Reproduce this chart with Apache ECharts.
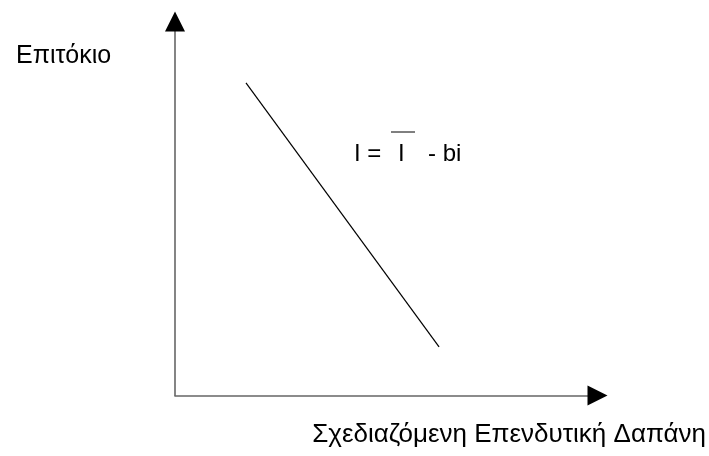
<!DOCTYPE html>
<html>
<head>
<meta charset="utf-8">
<script src="https://cdn.jsdelivr.net/npm/echarts@6/dist/echarts.min.js"></script>
<style>
  html, body { margin: 0; padding: 0; background: #fff; }
  #chart { width: 709px; height: 456px; }
</style>
</head>
<body>
<div id="chart"></div>
<script>
// investment demand line (axis units 0-100)
const spending = [16.8, 62.5];
const rate = [83.6, 13.0];
const yLabel = "Επιτόκιο";
const xLabel = "Σχεδιαζόμενη Επενδυτική Δαπάνη";

const chart = echarts.init(document.getElementById("chart"));
const font = "Liberation Sans, Arial, sans-serif";

// plain grey axis line
const axisLineOnly = {
  type: "value",
  min: 0,
  max: 100,
  splitLine: { show: false },
  axisTick: { show: false },
  axisLabel: { show: false },
  axisLine: {
    show: true,
    onZero: false,
    lineStyle: { color: "#666", width: 1.6 }
  }
};
// same axis again, only to draw the black arrow head
const axisArrow = {
  type: "value",
  min: 0,
  max: 100,
  splitLine: { show: false },
  axisTick: { show: false },
  axisLabel: { show: false },
  axisLine: {
    show: true,
    onZero: false,
    symbol: ["none", "triangle"],
    symbolSize: [20, 20],
    lineStyle: { color: "#000", width: 0 }
  }
};

chart.setOption({
  animation: false,
  grid: { left: 175, top: 21.5, right: 111.5, bottom: 60.5, containLabel: false, outerBoundsMode: "none" },
  xAxis: [
    Object.assign({ position: "bottom" }, axisLineOnly),
    Object.assign({ position: "bottom", offset: 0 }, axisArrow)
  ],
  yAxis: [
    Object.assign({ position: "left" }, axisLineOnly),
    Object.assign({ position: "left", offset: 0 }, axisArrow)
  ],
  series: [
    {
      type: "line",
      data: spending.map((x, i) => [x, rate[i]]),
      symbol: "none",
      lineStyle: { color: "#000", width: 1.2 }
    }
  ],
  graphic: [
    { type: "text", left: 16, top: 44, style: { text: yLabel, font: "25px " + font, fill: "#000" } },
    { type: "text", right: 3, top: 422, style: { text: xLabel, font: "26px " + font, fill: "#000" } },
    { type: "text", left: 354, top: 142, style: { text: "I =", font: "24px " + font, fill: "#000" } },
    { type: "text", left: 398, top: 142, style: { text: "I", font: "24px " + font, fill: "#000" } },
    { type: "text", left: 428, top: 142, style: { text: "- bi", font: "24px " + font, fill: "#000" } },
    { type: "line", shape: { x1: 391, y1: 132, x2: 415, y2: 132 }, style: { stroke: "#000", lineWidth: 1 } }
  ]
});
</script>
</body>
</html>
